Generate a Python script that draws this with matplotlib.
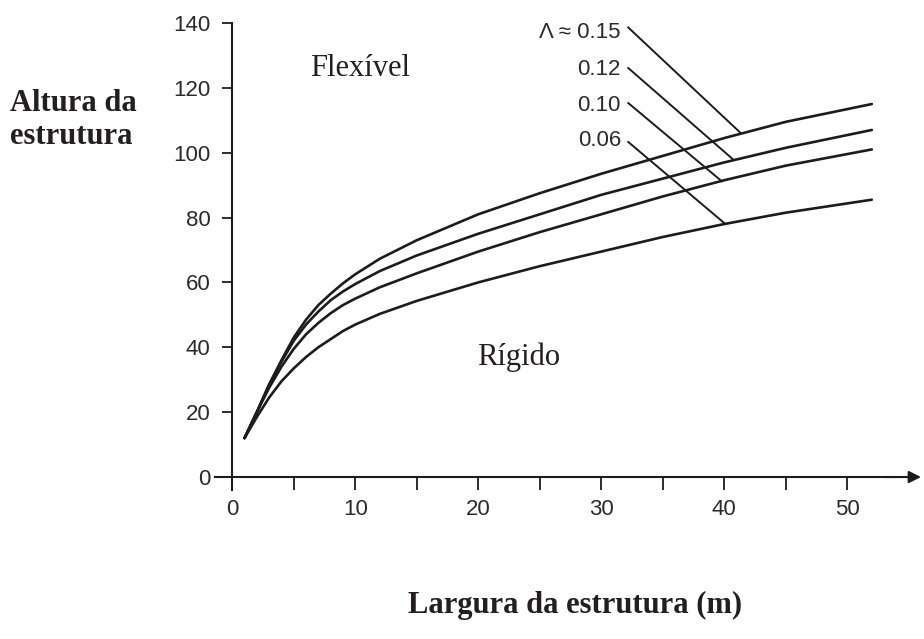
import numpy as np
import matplotlib.pyplot as plt

# largura (m) e alturas lidas para cada valor de Lambda
largura = [1, 2, 3, 4, 5, 6, 7, 8, 9, 10, 12, 15, 20, 25, 30, 35, 40, 45, 52]
h015 = [12, 20, 28.5, 36, 43, 48.5, 53, 56.5, 59.7, 62.5, 67.3, 73, 81, 87.5, 93.5, 99, 104.5, 109.5, 115]
h012 = [12, 20, 28.5, 35.5, 42, 47, 51, 54.5, 57.2, 59.5, 63.5, 68.3, 75, 81, 87, 92, 97, 101.5, 107]
h010 = [12, 20, 27.5, 34, 39.5, 44, 47.5, 50.5, 53, 55, 58.5, 62.8, 69.5, 75.5, 81, 86.5, 91.5, 96, 101]
h006 = [12, 18.5, 24.5, 29.5, 33.5, 37, 40, 42.5, 45, 47, 50.3, 54.3, 60, 65, 69.5, 74, 78, 81.5, 85.5]

rotulos = ["\u039b \u2248 0.15", "0.12", "0.10", "0.06"]
rotulo_y = [137.2, 125.5, 114.7, 103.9]
guia_ini_y = [138.6, 126.1, 115.3, 103.3]
guia_fim_x = [41.3, 40.7, 39.8, 40.1]
guia_fim_y = [106.2, 98.0, 91.2, 78.0]

xticks = [0, 10, 20, 30, 40, 50]
yticks = [0, 20, 40, 60, 80, 100, 120, 140]

W, H = 924, 639
fig = plt.figure(figsize=(W / 100, H / 100), dpi=100)
x0, x1, ytop, ybot = 215, 921, 19.7, 490
ax = fig.add_axes([x0 / W, 1 - ybot / H, (x1 - x0) / W, (ybot - ytop) / H])
ax.set_xlim(-1.4, 56)
ax.set_ylim(-4, 141)

cor = '#1c1c1c'
for h in [h015, h012, h010, h006]:
    ax.plot(largura, h, color=cor, lw=1.9, solid_capstyle='round',
            solid_joinstyle='round')

for i in range(4):
    ax.plot([32.2, guia_fim_x[i]], [guia_ini_y[i], guia_fim_y[i]], color=cor, lw=1.4)
    ax.text(31.6, rotulo_y[i], rotulos[i], ha='right', va='center',
            fontsize=16, family='Liberation Sans', color='#2a2a2a')

ax.text(6.3, 126, 'Flex\u00edvel', ha='left', va='center', fontsize=22,
        family='Liberation Serif', color='#231f20')
ax.text(19.9, 37, 'R\u00edgido', ha='left', va='center', fontsize=22,
        family='Liberation Serif', color='#231f20')

# eixos
for s in ['top', 'right']:
    ax.spines[s].set_visible(False)
ax.spines['left'].set_position(('data', 0))
ax.spines['left'].set_bounds(-4, 140)
ax.spines['bottom'].set_position(('data', 0))
ax.spines['bottom'].set_bounds(-1.4, 54)
for s in ['left', 'bottom']:
    ax.spines[s].set_linewidth(1.5)
    ax.spines[s].set_color(cor)
ax.annotate('', xy=(56, 0), xytext=(53, 0),
            arrowprops=dict(arrowstyle='-|>', color=cor, lw=1.5,
                            mutation_scale=18, shrinkA=0, shrinkB=0))

ax.set_xticks(xticks)
ax.set_xticks([5, 15, 25, 35, 45], minor=True)
ax.set_yticks(yticks)
ax.tick_params(axis='x', which='both', direction='out', length=9, width=1.3,
               color=cor, pad=7, labelsize=16, labelcolor='#2a2a2a')
ax.tick_params(axis='y', direction='out', length=7, width=1.3, color=cor,
               pad=8.5, labelsize=16, labelcolor='#2a2a2a')
for lab in ax.get_xticklabels() + ax.get_yticklabels():
    lab.set_family('Liberation Sans')

fig.text(10 / W, 1 - 120 / H, 'Altura da\nestrutura', ha='left', va='center',
         fontsize=22, fontweight='bold', family='Liberation Serif',
         color='#231f20', linespacing=1.15)
fig.text(575 / W, 1 - 605 / H, 'Largura da estrutura (m)', ha='center', va='center',
         fontsize=22, fontweight='bold', family='Liberation Serif', color='#231f20')

fig.savefig('out.png', dpi=100)
